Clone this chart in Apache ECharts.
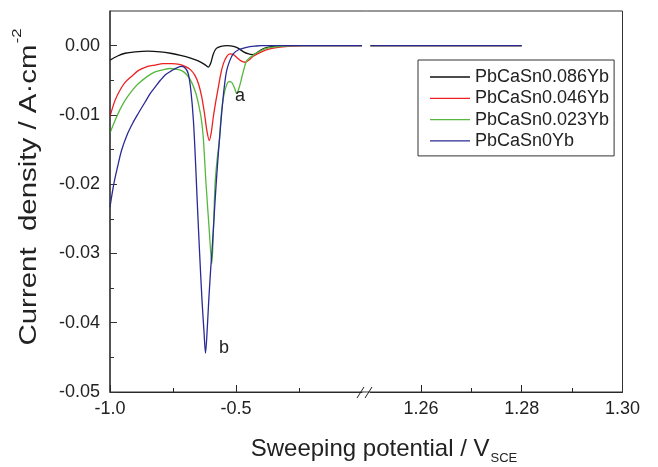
<!DOCTYPE html>
<html>
<head>
<meta charset="utf-8">
<script src="https://cdn.jsdelivr.net/npm/echarts@6/dist/echarts.min.js"></script>
<style>
html,body{margin:0;padding:0;background:#fff;}
#chart{width:658px;height:467px;}
</style>
</head>
<body>
<div id="chart"></div>
<script>
// ---- data (potential V vs SCE, current density A/cm^2) ----
const seriesNames = ['PbCaSn0.086Yb', 'PbCaSn0.046Yb', 'PbCaSn0.023Yb', 'PbCaSn0Yb'];
const seriesColors = ['#111111', '#ee2020', '#55b83c', '#2a2a96'];

const yb086Left = [[-1.00,-0.0021],[-0.97,-0.0015],[-0.94,-0.0011],[-0.90,-0.0009],[-0.85,-0.0008],[-0.80,-0.0009],[-0.76,-0.0011],[-0.72,-0.0014],[-0.68,-0.0018],[-0.65,-0.0022],[-0.625,-0.0027],[-0.610,-0.0031],[-0.600,-0.0025],[-0.590,-0.0012],[-0.578,-0.0004],[-0.560,-0.0001],[-0.535,0.0000],[-0.51,-0.0001],[-0.49,-0.0004],[-0.47,-0.0009],[-0.45,-0.0012],[-0.435,-0.0013],[-0.42,-0.0011],[-0.40,-0.0006],[-0.38,-0.0003],[-0.35,-0.0001],[-0.30,0],[-0.2,0],[-0.1,0],[0,0]];

const yb046Left = [[-1.00,-0.0102],[-0.98,-0.0079],[-0.96,-0.0064],[-0.94,-0.0053],[-0.91,-0.0043],[-0.888,-0.0036],[-0.85,-0.0030],[-0.821,-0.0028],[-0.79,-0.0026],[-0.755,-0.0026],[-0.725,-0.0027],[-0.702,-0.0030],[-0.68,-0.0035],[-0.663,-0.0043],[-0.648,-0.0056],[-0.636,-0.0074],[-0.625,-0.0098],[-0.616,-0.0122],[-0.606,-0.0137],[-0.598,-0.0125],[-0.59,-0.0103],[-0.58,-0.0080],[-0.570,-0.0060],[-0.560,-0.0040],[-0.550,-0.0026],[-0.537,-0.0016],[-0.524,-0.0012],[-0.51,-0.0013],[-0.497,-0.0017],[-0.48,-0.0022],[-0.464,-0.0024],[-0.45,-0.0021],[-0.43,-0.0015],[-0.405,-0.0010],[-0.37,-0.0005],[-0.325,-0.0002],[-0.28,-0.00005],[-0.24,0],[-0.15,0],[0,0]];

const yb023Left = [[-1.00,-0.0126],[-0.98,-0.0108],[-0.96,-0.0092],[-0.94,-0.0079],[-0.91,-0.0064],[-0.888,-0.0055],[-0.85,-0.0044],[-0.821,-0.0038],[-0.79,-0.0035],[-0.762,-0.0033],[-0.74,-0.0034],[-0.716,-0.0036],[-0.695,-0.0042],[-0.676,-0.0053],[-0.66,-0.0068],[-0.649,-0.0084],[-0.638,-0.0105],[-0.630,-0.0132],[-0.619,-0.0199],[-0.607,-0.0262],[-0.596,-0.0315],[-0.589,-0.0260],[-0.583,-0.0199],[-0.575,-0.0165],[-0.566,-0.0137],[-0.557,-0.0094],[-0.544,-0.0065],[-0.528,-0.0052],[-0.517,-0.0053],[-0.507,-0.0060],[-0.497,-0.0069],[-0.487,-0.0060],[-0.477,-0.0046],[-0.467,-0.0032],[-0.458,-0.0022],[-0.44,-0.0016],[-0.425,-0.0012],[-0.40,-0.0007],[-0.38,-0.0004],[-0.353,-0.0002],[-0.31,-0.00005],[-0.26,0],[-0.15,0],[0,0]];

const yb0Left = [[-1.00,-0.0233],[-0.985,-0.0200],[-0.97,-0.0175],[-0.954,-0.0151],[-0.93,-0.0127],[-0.91,-0.0112],[-0.888,-0.0098],[-0.86,-0.0081],[-0.84,-0.0069],[-0.821,-0.0060],[-0.80,-0.0050],[-0.78,-0.0042],[-0.755,-0.0036],[-0.735,-0.0032],[-0.715,-0.0030],[-0.70,-0.0033],[-0.689,-0.0041],[-0.679,-0.0065],[-0.669,-0.0108],[-0.661,-0.0165],[-0.654,-0.0224],[-0.645,-0.0295],[-0.635,-0.0367],[-0.627,-0.0413],[-0.621,-0.0444],[-0.614,-0.0408],[-0.608,-0.0367],[-0.600,-0.0320],[-0.595,-0.0295],[-0.589,-0.0260],[-0.583,-0.0224],[-0.575,-0.0180],[-0.566,-0.0137],[-0.555,-0.0090],[-0.545,-0.0055],[-0.537,-0.0036],[-0.525,-0.0022],[-0.511,-0.0012],[-0.49,-0.0006],[-0.458,-0.00024],[-0.42,-0.00005],[-0.40,0],[-0.2,0],[0,0]];

const rightPotentials = [1.25, 1.26, 1.27, 1.28];
const yb086Right = [0, 0, 0, 0];
const yb046Right = [0, 0, 0, 0];
const yb023Right = [0, 0, 0, 0];
const yb0Right = [0, 0, 0, 0];

// ---- axis ticks ----
const yMajorTicks = [-0.05, -0.04, -0.03, -0.02, -0.01, 0.00];
const yMinorTicks = [-0.045, -0.035, -0.025, -0.015, -0.005];
const xLeftMajorTicks = [-1.0, -0.5];
const xLeftMinorTicks = [-0.75, -0.25];
const xRightMajorTicks = [1.26, 1.28, 1.30];
const xRightMinorTicks = [1.27, 1.29];

const leftSets = [yb086Left, yb046Left, yb023Left, yb0Left];
const rightSets = [yb086Right, yb046Right, yb023Right, yb0Right];

const FONT = '"Liberation Sans", Arial, sans-serif';
const G = {top: 11, height: 381, l1: 110, w1: 252, l2: 370.5, w2: 252};

const chart = echarts.init(document.getElementById('chart'), null, {renderer: 'canvas'});

const series = [];
seriesNames.forEach((name, i) => {
  series.push({
    name, type: 'line', xAxisIndex: 0, yAxisIndex: 0,
    data: leftSets[i], symbol: 'none', smooth: 0.3,
    lineStyle: {color: seriesColors[i], width: 1.3}, itemStyle: {color: seriesColors[i]},
    z: 3 + i, animation: false
  });
  series.push({
    name, type: 'line', xAxisIndex: 2, yAxisIndex: 2,
    data: rightPotentials.map((p, k) => [p, rightSets[i][k]]), symbol: 'none',
    lineStyle: {color: seriesColors[i], width: 1.3}, itemStyle: {color: seriesColors[i]},
    z: 3 + i, animation: false
  });
});

const labelStyle = {color: '#222', fontSize: 18, fontFamily: FONT};
const noSplit = {show: false};
const legendIcon = 'path://M0,0 L40,0 L40,1.3 L0,1.3 Z';

const option = {
  backgroundColor: '#fff',
  animation: false,
  grid: [
    {left: G.l1, top: G.top, width: G.w1, height: G.height, containLabel: false, outerBoundsMode: 'none'},
    {left: G.l2, top: G.top, width: G.w2, height: G.height, containLabel: false, outerBoundsMode: 'none'}
  ],
  xAxis: [
    {gridIndex: 0, type: 'value', min: -1.0, max: 0.0, position: 'bottom',
     axisLine: {show: true, onZero: false, lineStyle: {color: '#222', width: 1}},
     axisTick: {show: true, inside: true, length: 7, customValues: xLeftMajorTicks, lineStyle: {color: '#222'}},
     axisLabel: {show: true, margin: 8, customValues: xLeftMajorTicks, formatter: v => v.toFixed(1), ...labelStyle},
     splitLine: noSplit},
    {gridIndex: 0, type: 'value', min: -1.0, max: 0.0, position: 'bottom',
     axisLine: {show: false, onZero: false},
     axisTick: {show: true, inside: true, length: 4, customValues: xLeftMinorTicks, lineStyle: {color: '#222'}},
     axisLabel: {show: false}, splitLine: noSplit},
    {gridIndex: 1, type: 'value', min: 1.25, max: 1.30, position: 'bottom',
     axisLine: {show: true, onZero: false, lineStyle: {color: '#222', width: 1}},
     axisTick: {show: true, inside: true, length: 7, customValues: xRightMajorTicks, lineStyle: {color: '#222'}},
     axisLabel: {show: true, margin: 8, customValues: xRightMajorTicks, formatter: v => v.toFixed(2), ...labelStyle},
     splitLine: noSplit},
    {gridIndex: 1, type: 'value', min: 1.25, max: 1.30, position: 'bottom',
     axisLine: {show: false, onZero: false},
     axisTick: {show: true, inside: true, length: 4, customValues: xRightMinorTicks, lineStyle: {color: '#222'}},
     axisLabel: {show: false}, splitLine: noSplit}
  ],
  yAxis: [
    {gridIndex: 0, type: 'value', min: -0.05, max: 0.005, position: 'left',
     axisLine: {show: true, onZero: false, lineStyle: {color: '#555', width: 1.6}},
     axisTick: {show: true, inside: true, length: 7, customValues: yMajorTicks, lineStyle: {color: '#333'}},
     axisLabel: {show: true, margin: 10, customValues: yMajorTicks, formatter: v => v.toFixed(2), ...labelStyle},
     splitLine: noSplit},
    {gridIndex: 0, type: 'value', min: -0.05, max: 0.005, position: 'left',
     axisLine: {show: false, onZero: false},
     axisTick: {show: true, inside: true, length: 4, customValues: yMinorTicks, lineStyle: {color: '#333'}},
     axisLabel: {show: false}, splitLine: noSplit},
    {gridIndex: 1, type: 'value', min: -0.05, max: 0.005, show: false}
  ],
  legend: {
    orient: 'vertical', left: 418, top: 60,
    padding: [7, 5, 5, 12],
    itemWidth: 40, itemHeight: 12, itemGap: 1.3,
    borderColor: '#333', borderWidth: 1, borderRadius: 0,
    icon: legendIcon,
    data: seriesNames.map(n => ({name: n, icon: legendIcon})),
    textStyle: {color: '#222', fontSize: 18, fontFamily: FONT, lineHeight: 20}
  },
  series,
  graphic: [
    // plot frame (top & right borders)
    {type: 'rect', z: 50, silent: true,
     shape: {x: G.l1, y: G.top, width: G.l2 + G.w2 - G.l1, height: G.height},
     style: {fill: 'none', stroke: '#333', lineWidth: 1}},
    // axis break marks
    {type: 'line', z: 60, shape: {x1: 357, y1: 398, x2: 364, y2: 387}, style: {stroke: '#222', lineWidth: 1}},
    {type: 'line', z: 60, shape: {x1: 365, y1: 398, x2: 372, y2: 387}, style: {stroke: '#222', lineWidth: 1}},
    // annotations
    {type: 'text', z: 60, x: 240, y: 96, style: {text: 'a', fill: '#222', font: '18px ' + FONT, textAlign: 'center', textVerticalAlign: 'middle'}},
    {type: 'text', z: 60, x: 224, y: 348, style: {text: 'b', fill: '#222', font: '18px ' + FONT, textAlign: 'center', textVerticalAlign: 'middle'}},
    // x-axis title
    {type: 'text', z: 60, x: 384, y: 449,
     style: {
       text: '{m|Sweeping potential / V}{s|SCE}',
       textAlign: 'center', textVerticalAlign: 'middle',
       rich: {
         m: {fontSize: 24, fontFamily: FONT, fill: '#222', lineHeight: 26},
         s: {fontSize: 13, fontFamily: FONT, fill: '#222', verticalAlign: 'bottom', lineHeight: 14, padding: [0, 0, -3, 1]}
       }
     }},
    // y-axis title
    {type: 'text', z: 60, x: 30, y: 187, rotation: Math.PI / 2, scaleX: 1.28,
     style: {
       text: '{m|Current  density / A\u00b7cm}{s|-2}',
       textAlign: 'center', textVerticalAlign: 'middle',
       rich: {
         m: {fontSize: 23, fontFamily: FONT, fill: '#222', lineHeight: 26},
         s: {fontSize: 13, fontFamily: FONT, fill: '#222', verticalAlign: 'top', padding: [-6, 0, 0, 1]}
       }
     }}
  ]
};

chart.setOption(option);
</script>
</body>
</html>
